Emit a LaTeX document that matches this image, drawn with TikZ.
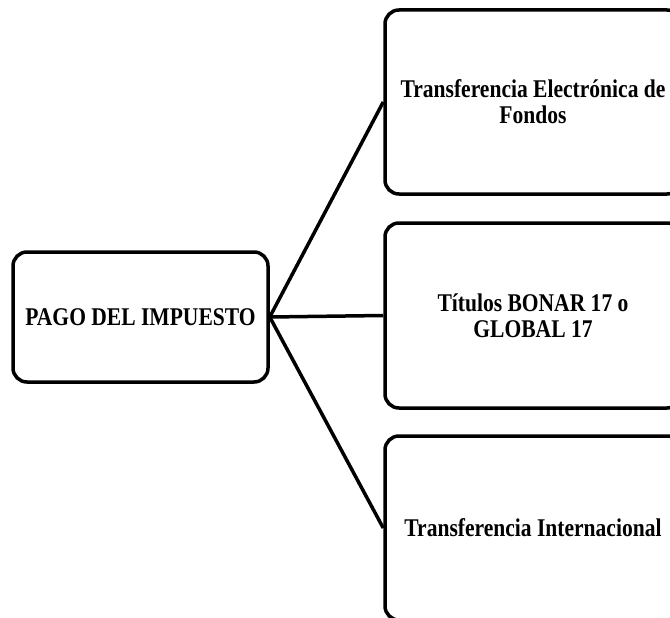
\documentclass[tikz,border=0pt]{standalone}
\usepackage{fontspec}
\setmainfont[FakeStretch=0.845]{Liberation Serif}
\begin{document}
\begin{tikzpicture}[x=1pt,y=-1pt,
  box/.style={draw=black, line width=3.5pt, rounded corners=14pt, fill=white, align=center,
    font=\fontsize{25.5}{26}\selectfont\bfseries, inner sep=0pt},
  link/.style={draw=black, line width=3.5pt}]
\useasboundingbox (0,0) rectangle (670,618);
\clip (0,0) rectangle (670,618);
\node[box, minimum width=255pt, minimum height=130pt] (pago) at (140.5,317) {PAGO DEL IMPUESTO};
\node[box, minimum width=296pt, minimum height=184pt] (t1) at (533,102) {Transferencia Electrónica de\\Fondos};
\node[box, minimum width=296pt, minimum height=185pt] (t2) at (533,315.5) {Títulos BONAR 17 o\\GLOBAL 17};
\node[box, minimum width=296pt, minimum height=184pt] (t3) at (533,528) {Transferencia Internacional};
\draw[link] (pago.east) -- (t1.west);
\draw[link] (pago.east) -- (t2.west);
\draw[link] (pago.east) -- (t3.west);
\end{tikzpicture}
\end{document}
